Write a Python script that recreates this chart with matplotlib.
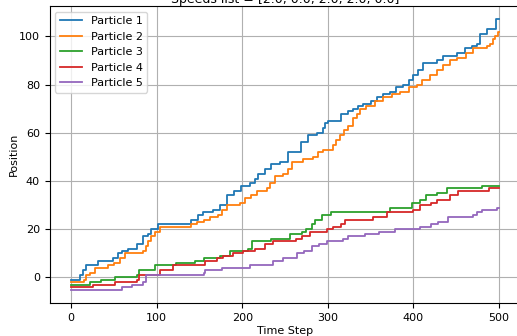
import matplotlib
matplotlib.use("Agg")
import matplotlib.pyplot as plt
import numpy as np

# change points (time step, position)
p1_t = [0, 10, 14, 18, 32, 49, 55, 59, 67, 77, 84, 90, 94, 102, 140, 148, 154, 166, 174, 182, 190, 199, 209, 215, 219, 227, 234, 244, 254, 269, 277, 287, 294, 297, 300, 316, 324, 329, 335, 341, 350, 357, 365, 373, 380, 388, 395, 400, 405, 411, 427, 435, 451, 460, 468, 474, 478, 486, 497, 500]
p1_v = [-1, 1, 3, 5, 7, 8, 10, 11, 12, 14, 17, 18, 20, 22, 24, 26, 27, 28, 30, 34, 36, 38, 39, 41, 43, 45, 47, 48, 52, 56, 59, 60, 62, 64, 65, 68, 69, 70, 71, 72, 73, 75, 76, 77, 79, 80, 82, 84, 86, 89, 90, 92, 93, 95, 96, 97, 101, 103, 107, 107]

p2_t = [0, 15, 18, 22, 28, 43, 50, 57, 63, 84, 88, 90, 94, 98, 104, 140, 147, 155, 162, 172, 176, 182, 197, 203, 210, 217, 229, 233, 238, 248, 253, 258, 271, 283, 288, 294, 306, 310, 314, 319, 324, 329, 334, 338, 345, 355, 365, 375, 384, 395, 404, 410, 419, 427, 435, 443, 451, 462, 470, 486, 489, 493, 495, 499, 500]
p2_v = [-2, -1, 1, 2, 4, 5, 6, 8, 10, 11, 13, 15, 17, 19, 21, 22, 23, 24, 25, 26, 28, 30, 31, 33, 34, 36, 37, 39, 42, 43, 45, 48, 49, 50, 52, 53, 55, 57, 59, 61, 63, 66, 68, 70, 71, 73, 75, 76, 77, 79, 80, 82, 84, 86, 88, 90, 91, 93, 95, 96, 97, 99, 100, 102, 102]

p3_t = [0, 22, 35, 51, 77, 80, 98, 123, 145, 155, 174, 186, 207, 211, 234, 256, 270, 275, 281, 285, 293, 304, 373, 398, 408, 415, 427, 439, 480, 500]
p3_v = [-3, -2, -1, 0, 1, 3, 5, 6, 7, 8, 9, 11, 12, 15, 16, 18, 19, 20, 22, 24, 26, 27, 29, 31, 32, 34, 35, 37, 38, 38]

p4_t = [0, 26, 51, 77, 80, 104, 119, 157, 170, 178, 189, 201, 215, 227, 236, 263, 270, 279, 299, 306, 316, 320, 353, 369, 400, 408, 420, 427, 443, 452, 488, 500]
p4_v = [-4, -3, -2, -1, 1, 3, 5, 7, 8, 9, 10, 11, 12, 14, 15, 16, 17, 19, 20, 21, 22, 24, 25, 27, 28, 30, 31, 32, 34, 36, 37, 37]

p5_t = [0, 59, 71, 84, 88, 155, 157, 176, 209, 236, 248, 264, 272, 281, 290, 299, 318, 324, 343, 360, 378, 408, 420, 429, 441, 470, 474, 480, 498, 500]
p5_v = [-5, -4, -3, -2, 1, 2, 3, 4, 5, 7, 8, 10, 11, 13, 14, 15, 16, 17, 18, 19, 20, 21, 22, 23, 25, 26, 27, 28, 29, 29]

labels = ["Particle 1", "Particle 2", "Particle 3", "Particle 4", "Particle 5"]
title = "Speeds list = [2.0, 0.0, 2.0, 2.0, 0.0]"

plt.rcParams['font.size'] = 8

fig = plt.figure(figsize=(5.17, 3.36), dpi=100)
ax = fig.add_axes([49.6/517, 33/336, (520.4-49.6)/517, 297/336])

series = [(p1_t, p1_v), (p2_t, p2_v), (p3_t, p3_v), (p4_t, p4_v), (p5_t, p5_v)]
for (t, v), lab in zip(series, labels):
    ax.step(t, v, where='post', lw=1.3, label=lab)

ax.set_xticks(np.arange(0, 501, 100))
ax.set_yticks(np.arange(0, 101, 20))
ax.grid(True, lw=0.8)
ax.set_xlabel("Time Step", labelpad=2)
ax.set_ylabel("Position", labelpad=0)
ax.set_title(title, fontsize=9, pad=1)
ax.legend(loc='upper left', fontsize=8)

fig.savefig("out.png", dpi=100)
